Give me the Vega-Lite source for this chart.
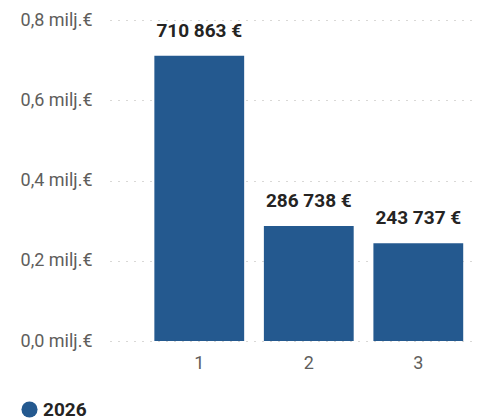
{
  "$schema": "https://vega.github.io/schema/vega-lite/v6.json",
  "width": 368,
  "height": 321,
  "autosize": {"type": "none"},
  "padding": {"left": 110, "top": 20, "right": 7, "bottom": 78},
  "background": "white",
  "data": {"values": [
    {"category": "1", "value": 710863, "year": "2026"},
    {"category": "2", "value": 286738, "year": "2026"},
    {"category": "3", "value": 243737, "year": "2026"}
  ]},
  "config": {
    "view": {"stroke": null},
    "font": "Roboto"
  },
  "encoding": {
    "x": {
      "field": "category", "type": "nominal",
      "scale": {"paddingInner": 0.18, "paddingOuter": 0.27, "align": 0.75},
      "axis": {"title": null, "labelAngle": 0, "ticks": false, "domain": false,
               "labelFontSize": 18, "labelColor": "#605E5C", "labelPadding": 13}
    },
    "y": {
      "field": "value", "type": "quantitative",
      "scale": {"domain": [0, 800000]},
      "axis": {"title": null, "values": [0, 200000, 400000, 600000, 800000],
               "labelExpr": "replace(format(datum.value/1000000, '.1f'), '.', ',') + ' milj.€'",
               "ticks": false, "domain": false, "labelPadding": 18,
               "labelFontSize": 18, "labelColor": "#605E5C",
               "grid": true, "gridColor": "#B3B0AD", "gridDash": [1, 7], "gridWidth": 1}
    }
  },
  "layer": [
    {
      "mark": {"type": "bar", "color": "#24598F"},
      "encoding": {
        "color": {"field": "year", "type": "nominal",
                  "scale": {"range": ["#24598F"]},
                  "legend": {"title": null, "orient": "none", "legendX": -90, "legendY": 380,
                             "symbolType": "circle", "symbolSize": 260, "symbolStrokeWidth": 0,
                             "labelFontSize": 19, "labelFontWeight": "bold", "labelColor": "#252423",
                             "labelOffset": 4}}
      }
    },
    {
      "transform": [{"calculate": "replace(format(datum.value, ','), /,/g, ' ') + ' €'", "as": "label"}],
      "mark": {"type": "text", "baseline": "alphabetic", "dy": -19, "fontSize": 19,
               "fontWeight": "bold", "color": "#252423"},
      "encoding": {"text": {"field": "label"}}
    }
  ]
}
